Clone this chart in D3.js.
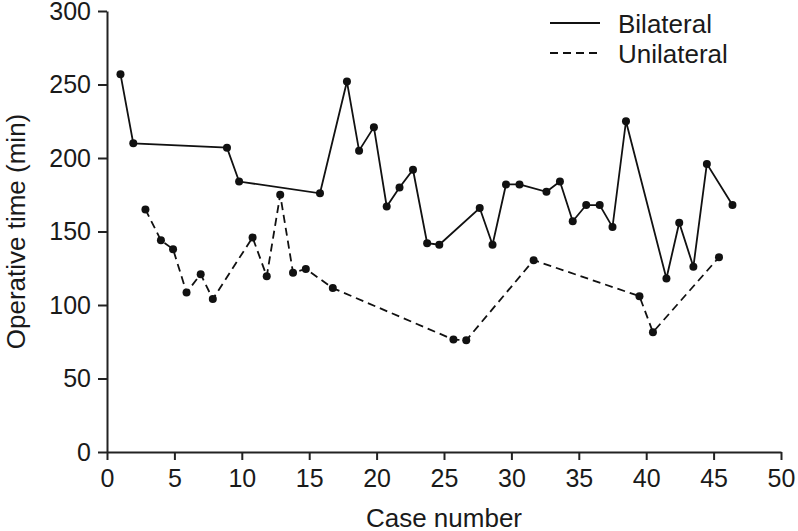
<!DOCTYPE html>
<html>
<head>
<meta charset="utf-8">
<script src="https://cdn.jsdelivr.net/npm/d3@7"></script>
<style>
  body { margin: 0; background: #fff; }
  svg { display: block; }
</style>
</head>
<body>
<svg width="798" height="531"></svg>
<script>
// values (x = plotted case position, y = minutes)
const bilateralCase = [1.0, 1.95, 8.9, 9.8, 15.8, 17.8, 18.7, 19.8, 20.75, 21.7,
  22.7, 23.75, 24.65, 27.65, 28.6, 29.6, 30.6, 32.6, 33.6, 34.55,
  35.55, 36.55, 37.5, 38.5, 41.5, 42.45, 43.5, 44.5, 46.4];
const bilateralTime = [257, 210, 207, 184, 176, 252, 205, 221, 167, 180,
  192, 142, 141, 166, 141, 182, 182, 177, 184, 157,
  168, 168, 153, 225, 118, 156, 126, 196, 168];

const unilateralCase = [2.85, 4.0, 4.9, 5.9, 6.95, 7.85, 10.8, 11.85, 12.85, 13.8,
  14.75, 16.75, 25.7, 26.65, 31.65, 39.5, 40.5, 45.4];
const unilateralTime = [165, 144, 138, 108.5, 121, 104, 146, 119.5, 175, 122,
  124.5, 111.5, 76.5, 76, 130.5, 106, 81.5, 132.5];

const xTicks = [0, 5, 10, 15, 20, 25, 30, 35, 40, 45, 50];
const yTicks = [0, 50, 100, 150, 200, 250, 300];
const seriesNames = ["Bilateral", "Unilateral"];

const svg = d3.select("svg");
const margin = {top: 11, right: 17, bottom: 79, left: 107},
  width = 798 - margin.left - margin.right,
  height = 531 - margin.top - margin.bottom;
const font = "'Liberation Sans', Arial, Helvetica, sans-serif";

const x = d3.scaleLinear().domain([0, 50]).range([0, width]);
const y = d3.scaleLinear().domain([0, 300]).range([height, 0]);

const g = svg.append("g").attr("transform", `translate(${margin.left},${margin.top})`);

// axes
const xAxis = g.append("g")
  .attr("transform", `translate(0,${height})`)
  .call(d3.axisBottom(x).tickValues(xTicks).tickSize(8).tickPadding(6).tickSizeOuter(0));
const yAxis = g.append("g")
  .call(d3.axisLeft(y).tickValues(yTicks).tickSize(9).tickPadding(7).tickSizeOuter(0));

[xAxis, yAxis].forEach(a => {
  a.select(".domain").attr("stroke", "#222").attr("stroke-width", 2);
  a.selectAll(".tick line").attr("stroke", "#222").attr("stroke-width", 2);
  a.selectAll(".tick text")
    .attr("fill", "#1a1a1a")
    .style("font-family", font)
    .style("font-size", "25px");
});
xAxis.selectAll(".tick text").attr("dy", "0.85em");

// series
const series = [
  {name: seriesNames[0], xs: bilateralCase, ys: bilateralTime, dash: null},
  {name: seriesNames[1], xs: unilateralCase, ys: unilateralTime, dash: "8,5"}
];

const line = d3.line().x(d => x(d[0])).y(d => y(d[1]));

series.forEach(s => {
  const pts = s.xs.map((v, i) => [v, s.ys[i]]);
  g.append("path")
    .datum(pts)
    .attr("d", line)
    .attr("fill", "none")
    .attr("stroke", "#111")
    .attr("stroke-width", 1.8)
    .attr("stroke-dasharray", s.dash);
  g.append("g")
    .selectAll("circle")
    .data(pts)
    .enter()
    .append("circle")
    .attr("cx", d => x(d[0]))
    .attr("cy", d => y(d[1]))
    .attr("r", 4)
    .attr("fill", "#111");
});

// legend
const legend = svg.append("g");
series.forEach((s, i) => {
  const ly = 23 + i * 30;
  legend.append("line")
    .attr("x1", 550).attr("x2", 600)
    .attr("y1", ly).attr("y2", ly)
    .attr("stroke", "#111")
    .attr("stroke-width", 1.8)
    .attr("stroke-dasharray", s.dash);
  legend.append("text")
    .attr("x", 618)
    .attr("y", ly + 10)
    .attr("fill", "#1a1a1a")
    .style("font-family", font)
    .style("font-size", "26px")
    .text(s.name);
});

// axis titles
svg.append("text")
  .attr("x", margin.left + width / 2)
  .attr("y", 527)
  .attr("text-anchor", "middle")
  .attr("fill", "#1a1a1a")
  .style("font-family", font)
  .style("font-size", "26px")
  .text("Case number");

svg.append("text")
  .attr("text-anchor", "middle")
  .attr("transform", `translate(25,${margin.top + height / 2})rotate(-90)`)
  .attr("fill", "#1a1a1a")
  .style("font-family", font)
  .style("font-size", "26px")
  .text("Operative time (min)");
</script>
</body>
</html>
